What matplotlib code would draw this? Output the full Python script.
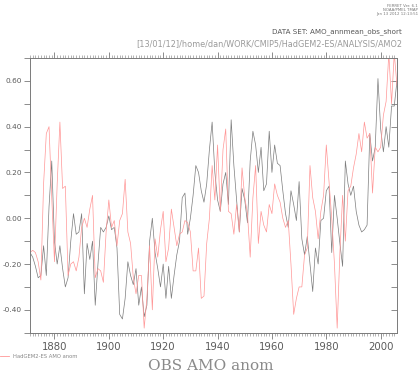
import numpy as np
import matplotlib
matplotlib.use("Agg")
import matplotlib.pyplot as plt
from matplotlib.ticker import MultipleLocator, FormatStrFormatter
#------------------------------
years = np.arange(1871, 2007)

# OBS AMO anomaly (black line), read per decade
obs = [
    -0.15, -0.17, -0.21, -0.26, -0.25, -0.12, -0.25, 0.05, 0.25, -0.10,   # 1871-1880
    -0.20, -0.12, -0.22, -0.30, -0.26, -0.10, 0.02, -0.07, -0.06, 0.02,   # 1881-1890
    -0.33, -0.11, -0.18, -0.10, -0.38, -0.20, -0.04, -0.06, -0.04, 0.01,  # 1891-1900
    -0.05, -0.04, -0.13, -0.42, -0.44, -0.35, -0.19, -0.25, -0.29, -0.22, # 1901-1910
    -0.38, -0.30, -0.43, -0.38, -0.10, 0.00, -0.15, -0.22, -0.30, -0.20,  # 1911-1920
    -0.35, -0.21, -0.35, -0.25, -0.16, -0.10, 0.09, 0.11, -0.07, 0.00,    # 1921-1930
    0.10, 0.23, 0.20, 0.12, 0.07, 0.15, 0.30, 0.42, 0.20, 0.08,           # 1931-1940
    0.03, 0.15, 0.20, 0.06, 0.43, 0.23, 0.08, -0.06, 0.13, 0.08,          # 1941-1950
    -0.02, 0.25, 0.38, 0.32, 0.20, 0.31, 0.12, 0.15, 0.38, 0.20,          # 1951-1960
    0.32, 0.24, 0.23, 0.12, 0.02, -0.04, 0.12, 0.06, -0.01, 0.16,         # 1961-1970
    -0.09, -0.16, -0.08, -0.20, -0.32, -0.13, -0.20, -0.01, 0.00, 0.12,   # 1971-1980
    0.14, -0.15, 0.10, 0.00, -0.11, -0.21, 0.25, 0.15, 0.10, 0.14,        # 1981-1990
    0.03, -0.03, -0.06, -0.05, -0.03, 0.37, 0.25, 0.31, 0.61, 0.39,       # 1991-2000
    0.29, 0.40, 0.31, 0.49, 0.49, 0.60,                                   # 2001-2006
]

# HadGEM2-ES AMO anomaly (red line)
had = [
    -0.15, -0.14, -0.15, -0.19, -0.27, 0.15, 0.37, 0.40, 0.09, -0.19,     # 1871-1880
    0.15, 0.42, 0.13, 0.14, -0.25, -0.20, -0.19, -0.23, -0.17, -0.04,     # 1881-1890
    0.00, -0.04, 0.04, 0.10, -0.26, -0.22, -0.23, -0.28, -0.06, 0.08,     # 1891-1900
    -0.04, -0.01, -0.12, -0.01, 0.02, 0.17, -0.06, -0.11, -0.26, -0.33,   # 1901-1910
    -0.25, -0.25, -0.48, -0.35, -0.12, -0.40, -0.09, -0.17, -0.05, 0.03,  # 1911-1920
    -0.19, -0.13, 0.04, -0.04, -0.12, -0.07, -0.06, -0.01, -0.02, -0.06,  # 1921-1930
    -0.23, -0.23, -0.13, -0.35, -0.34, -0.11, 0.00, 0.23, 0.08, 0.32,     # 1931-1940
    0.03, 0.30, 0.39, 0.03, 0.02, -0.07, 0.06, -0.06, 0.22, 0.09,         # 1941-1950
    0.02, -0.17, 0.09, 0.23, -0.11, 0.03, -0.03, -0.06, 0.06, 0.02,       # 1951-1960
    0.15, 0.10, 0.07, 0.00, -0.04, -0.01, -0.20, -0.42, -0.35, -0.30,     # 1961-1970
    -0.30, -0.16, -0.13, 0.23, 0.09, 0.03, -0.09, 0.03, 0.10, 0.32,       # 1971-1980
    0.16, 0.00, -0.20, -0.48, -0.15, 0.10, -0.10, 0.12, 0.14, 0.22,       # 1981-1990
    0.28, 0.37, 0.29, 0.42, 0.35, 0.37, 0.11, 0.31, 0.29, 0.31,           # 1991-2000
    0.45, 0.51, 0.72, 0.50, 0.72, 0.58,                                   # 2001-2006
]

ytick_vals = [-0.40, -0.20, 0.00, 0.20, 0.40, 0.60]
xtick_vals = [1880, 1900, 1920, 1940, 1960, 1980, 2000]
#------------------------------
grey = '#7a7a7a'
fig = plt.figure(figsize=(4.19, 3.74), dpi=100)
ax = fig.add_axes([0.0716, 0.1104, 0.8752, 0.7346])

ax.plot(years, obs, color='#7c7c7c', lw=0.5)
ax.plot(years, had, color='#ff9696', lw=0.5)

ax.set_xlim(1871, 2005.9)
ax.set_ylim(-0.5, 0.7)

ax.set_xticks(xtick_vals)
ax.xaxis.set_minor_locator(MultipleLocator(1))
ax.set_yticks(ytick_vals)
ax.yaxis.set_minor_locator(MultipleLocator(0.1))
ax.yaxis.set_major_formatter(FormatStrFormatter('%.2f'))

for s in ax.spines.values():
    s.set_color(grey)
    s.set_linewidth(0.7)

ax.tick_params(axis='x', which='both', top=True, bottom=True, direction='out',
               colors=grey, labelcolor='#5a5a5a', labelsize=7.3, pad=3)
ax.tick_params(axis='x', which='major', length=4, width=0.6)
ax.tick_params(axis='x', which='minor', length=2, width=0.4)
ax.tick_params(axis='y', which='both', left=True, right=True, direction='out',
               colors=grey, labelcolor='#5a5a5a', labelsize=5.3, pad=2)
ax.tick_params(axis='y', which='both', length=4, width=0.6)
# right-hand ticks point into the box
for t in ax.yaxis.get_major_ticks() + ax.yaxis.get_minor_ticks():
    t.tick2line.set_marker(matplotlib.lines.TICKLEFT)

# header texts
fig.text(0.998, 0.99, "FERRET Ver. 6.1\nNOAA/PMEL TMAP\nJan 13 2012 12:13:51",
         ha='right', va='top', fontsize=2.8, color='#777777', linespacing=1.1)
fig.text(0.960, 0.915, "DATA SET: AMO_annmean_obs_short",
         ha='right', va='center', fontsize=5.1, color='#555555')
fig.text(0.960, 0.884, "[13/01/12]/home/dan/WORK/CMIP5/HadGEM2-ES/ANALYSIS/AMO2",
         ha='right', va='center', fontsize=5.9, color='#9a9a9a')

# legend key under the plot
fig.lines.append(plt.Line2D([0.0, 0.022], [0.048, 0.048], transform=fig.transFigure,
                            color='#ff9696', lw=0.6))
fig.text(0.032, 0.048, "HadGEM2-ES AMO anom", ha='left', va='center',
         fontsize=3.8, color='#888888')

fig.text(0.502, 0.022, "OBS AMO anom", ha='center', va='center',
         fontsize=11, color='#8a8a8a', family='DejaVu Serif')

fig.savefig('out.png', dpi=100)
